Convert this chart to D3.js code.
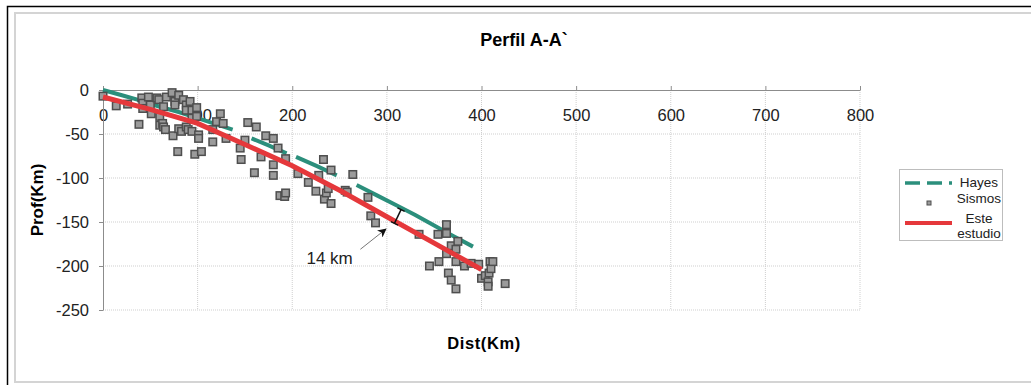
<!DOCTYPE html>
<html>
<head>
<meta charset="utf-8">
<script src="https://cdn.jsdelivr.net/npm/d3@7"></script>
<style>
  body { margin: 0; background: #fff; }
  svg { display: block; font-family: "Liberation Sans", Arial, sans-serif; }
  .grid line { stroke: #cfcfcf; stroke-dasharray: 1,1; }
  .axis path, .axis line { stroke: #8c8c8c; }
  .axis text { fill: #222; font-size: 16.5px; }
</style>
</head>
<body>
<div id="chart"></div>
<script>
// Hayes slab model (null = gap in the line)
var hayesDist = [0, 20, 40, 60, 80, 100, 120, 137, null, 157, 175, 194, null, 204, 225, 247, null, 268, 290, 310, 330, 350, 370, 391];
var hayesProf = [0, -6, -12, -19, -25, -32, -39, -45, null, -55, -63, -72, null, -76, -86, -97, null, -108, -120, -131, -142, -154, -166, -178];

// this study
var esteDist = [0, 50, 100, 150, 200, 250, 300, 350, 400];
var esteProf = [-8, -22, -38, -62, -86, -114, -144, -174, -204];

// earthquakes
var sismoDist = [0, 14, 26, 38, 41, 42, 42, 48, 50, 51, 57, 59, 60, 60, 63, 64, 64, 66, 67, 73,
    74, 76, 79, 80, 80, 76, 83, 85, 88, 88, 88, 90, 92, 94, 94, 94, 97, 99, 101, 101,
    104, 99, 116, 116, 120, 124, 127, 130, 145, 146, 150, 153, 160, 162, 167, 172, 180, 185, 180, 180,
    187, 192, 193, 193, 206, 217, 225, 228, 233, 234, 236, 238, 241, 241, 256, 258, 264, 280, 283, 288,
    334, 354, 363, 363, 363, 368, 373, 375, 345, 355, 365, 368, 373, 373, 382, 389, 397, 400, 404, 407,
    407, 408, 409, 410, 412, 425];
var sismoProf = [-7, -18, -16, -39, -9, -15, -21, -8, -17, -27, -9, -11, -30, -40, -38, -19, -42, -45, -8, -3,
    -52, -13, -70, -6, -44, -17, -47, -11, -17, -23, -42, -45, -13, -23, -32, -47, -73, -30, -51, -55,
    -70, -20, -45, -59, -36, -27, -38, -55, -66, -79, -57, -37, -94, -42, -76, -52, -55, -66, -85, -97,
    -120, -121, -117, -78, -95, -105, -115, -97, -79, -124, -117, -112, -91, -129, -114, -116, -96, -122, -143, -151,
    -164, -164, -153, -163, -186, -177, -181, -172, -200, -195, -208, -216, -226, -195, -200, -197, -198, -214, -211, -218,
    -223, -208, -195, -203, -195, -220];

var xTicks = [0, 100, 200, 300, 400, 500, 600, 700, 800];
var yTicks = [0, -50, -100, -150, -200, -250];

// 14 km annotation (bar between the two slabs, arrow, label)
var gapDist = [315, 308];
var gapProf = [-136, -151.5];
var arrowDist = [272, 299];
var arrowProf = [-181, -158];

var width = 1031, height = 385;
var margin = {top: 90, right: 171, bottom: 75, left: 103};

var svg = d3.select("#chart").append("svg")
    .attr("width", width)
    .attr("height", height);

//frame
svg.append("rect")
    .attr("x", 7.5).attr("y", 6.5)
    .attr("width", width).attr("height", height)
    .attr("fill", "none").attr("stroke", "#000").attr("stroke-width", 1.5);
svg.append("rect")
    .attr("x", 15).attr("y", 13)
    .attr("width", width).attr("height", 369)
    .attr("fill", "none").attr("stroke", "#d4d4d4").attr("stroke-width", 2);

var x = d3.scaleLinear().domain([0, 800]).range([margin.left, width - margin.right]);
var y = d3.scaleLinear().domain([0, -250]).range([margin.top, height - margin.bottom]);

//grid lines
var grid = svg.append("g").attr("class", "grid");
grid.selectAll(".gx")
    .data(xTicks.slice(1))
    .enter().append("line")
    .attr("x1", d => x(d)).attr("x2", d => x(d))
    .attr("y1", y(0)).attr("y2", y(-250));
grid.selectAll(".gy")
    .data(yTicks.slice(1))
    .enter().append("line")
    .attr("x1", x(0)).attr("x2", x(800))
    .attr("y1", d => y(d)).attr("y2", d => y(d));

//axes - x axis sits on depth 0, labels drawn below the line
var xAxis = svg.append("g")
    .attr("class", "axis")
    .attr("transform", "translate(0," + y(0) + ")")
    .call(d3.axisTop(x).tickValues(xTicks).tickSize(4).tickSizeOuter(0));
xAxis.selectAll("text").attr("y", 31).attr("dy", 0);

svg.append("g")
    .attr("class", "axis")
    .attr("transform", "translate(" + x(0) + ",0)")
    .call(d3.axisLeft(y).tickValues(yTicks).tickSize(4).tickSizeOuter(0).tickPadding(10)
        .tickFormat(d => String(d)));

svg.append("text")
    .attr("x", 524).attr("y", 46)
    .attr("text-anchor", "middle")
    .attr("font-size", 18).attr("font-weight", "bold")
    .text("Perfil A-A`");

svg.append("text")
    .attr("x", 484).attr("y", 349)
    .attr("text-anchor", "middle")
    .attr("font-size", 16.5).attr("font-weight", "bold")
    .attr("letter-spacing", 0.6)
    .text("Dist(Km)");

svg.append("text")
    .attr("transform", "translate(43,200) rotate(-90)")
    .attr("text-anchor", "middle")
    .attr("font-size", 17).attr("font-weight", "bold")
    .text("Prof(Km)");

//series
var hayesData = hayesDist.map((d, i) => ({d: d, p: hayesProf[i]}));
var esteData = esteDist.map((d, i) => ({d: d, p: esteProf[i]}));
var sismoData = sismoDist.map((d, i) => ({d: d, p: sismoProf[i]}));

var line = d3.line()
    .defined(d => d.d !== null)
    .x(d => x(d.d))
    .y(d => y(d.p));

svg.append("path")
    .datum(hayesData)
    .attr("d", line)
    .attr("fill", "none")
    .attr("stroke", "#2b8f7c")
    .attr("stroke-width", 4);

var ms = 7.5;
svg.selectAll(".sismo")
    .data(sismoData)
    .enter().append("rect")
    .attr("class", "sismo")
    .attr("x", d => x(d.d) - ms / 2)
    .attr("y", d => y(d.p) - ms / 2)
    .attr("width", ms).attr("height", ms)
    .attr("fill", "#9b9b9b")
    .attr("stroke", "#4e4e4e")
    .attr("stroke-width", 1.5);

svg.append("path")
    .datum(esteData)
    .attr("d", line)
    .attr("fill", "none")
    .attr("stroke", "#e5383b")
    .attr("stroke-width", 5);

//14 km annotation
var gapPts = gapDist.map((d, i) => [x(d), y(gapProf[i])]);
svg.append("line")
    .attr("x1", gapPts[0][0]).attr("y1", gapPts[0][1])
    .attr("x2", gapPts[1][0]).attr("y2", gapPts[1][1])
    .attr("stroke", "#111").attr("stroke-width", 1.5);
// caps perpendicular to the bar
var gdx = gapPts[1][0] - gapPts[0][0], gdy = gapPts[1][1] - gapPts[0][1];
var glen = Math.sqrt(gdx * gdx + gdy * gdy);
var px = -gdy / glen * 4, py = gdx / glen * 4;
gapPts.forEach(function (p) {
    svg.append("line")
        .attr("x1", p[0] - px).attr("y1", p[1] - py)
        .attr("x2", p[0] + px).attr("y2", p[1] + py)
        .attr("stroke", "#111").attr("stroke-width", 1.5);
});

svg.append("defs").append("marker")
    .attr("id", "arr")
    .attr("viewBox", "0 0 10 10")
    .attr("refX", 9).attr("refY", 5)
    .attr("markerWidth", 9).attr("markerHeight", 9)
    .attr("markerUnits", "userSpaceOnUse")
    .attr("orient", "auto")
    .append("path")
    .attr("d", "M0,0 L10,5 L0,10 L3,5 Z")
    .attr("fill", "#111");

svg.append("line")
    .attr("x1", x(arrowDist[0])).attr("y1", y(arrowProf[0]))
    .attr("x2", x(arrowDist[1])).attr("y2", y(arrowProf[1]))
    .attr("stroke", "#777").attr("stroke-width", 1)
    .attr("marker-end", "url(#arr)");

svg.append("text")
    .attr("x", x(215)).attr("y", y(-191) + 6)
    .attr("font-size", 17)
    .attr("fill", "#222")
    .text("14 km");

//legend
var legend = svg.append("g");
legend.append("rect")
    .attr("x", 899.5).attr("y", 169.5)
    .attr("width", 103).attr("height", 71)
    .attr("fill", "#fff").attr("stroke", "#bdbdbd");

var legendItems = [
    {name: ["Hayes"], type: "hayes", cy: 183, ty: [187]},
    {name: ["Sismos"], type: "sismo", cy: 203, ty: [203]},
    {name: ["Este", "estudio"], type: "este", cy: 223, ty: [223, 238]}
];
legendItems.forEach(function (it) {
    if (it.type === "hayes") {
        legend.append("line")
            .attr("x1", 905).attr("x2", 952)
            .attr("y1", it.cy).attr("y2", it.cy)
            .attr("stroke", "#2b8f7c").attr("stroke-width", 3.5)
            .attr("stroke-dasharray", "15,7");
    } else if (it.type === "sismo") {
        legend.append("rect")
            .attr("x", 927).attr("y", it.cy - 2)
            .attr("width", 4).attr("height", 4)
            .attr("fill", "#9b9b9b").attr("stroke", "#4e4e4e");
    } else {
        legend.append("line")
            .attr("x1", 905).attr("x2", 952)
            .attr("y1", it.cy).attr("y2", it.cy)
            .attr("stroke", "#e5383b").attr("stroke-width", 4);
    }
    it.name.forEach(function (t, j) {
        legend.append("text")
            .attr("x", 979)
            .attr("y", it.ty[j])
            .attr("text-anchor", "middle")
            .attr("font-size", 13.5)
            .attr("fill", "#222")
            .text(t);
    });
});
</script>
</body>
</html>
